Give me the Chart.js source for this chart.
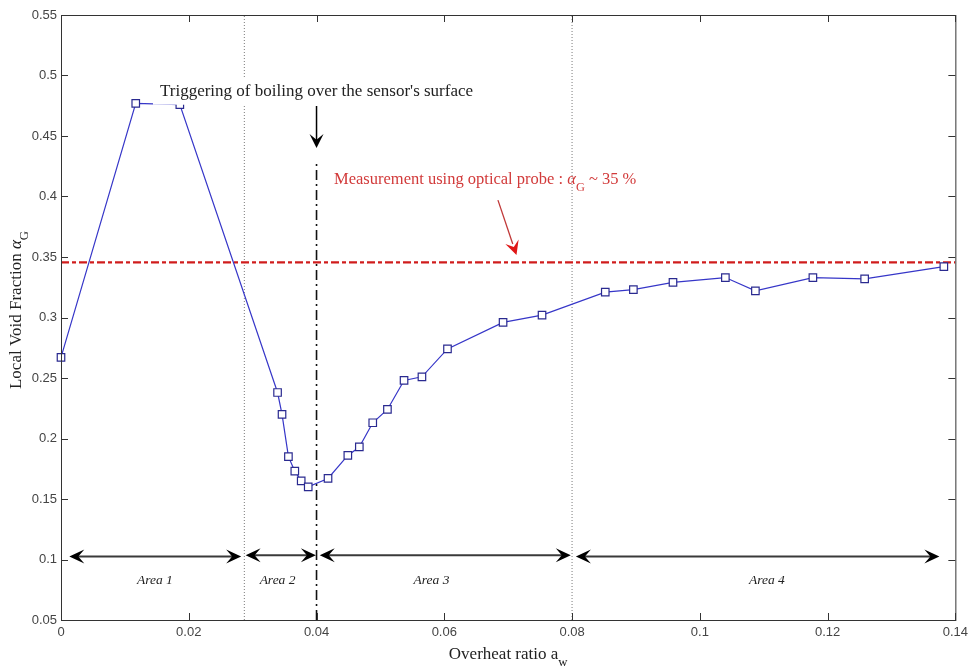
<!DOCTYPE html>
<html>
<head>
<meta charset="utf-8">
<script src="https://cdn.jsdelivr.net/npm/chart.js@4.4.1/dist/chart.umd.min.js"></script>
<style>
  body { margin: 0; background: #fff; }
  #wrap { width: 973px; height: 670px; position: relative; }
</style>
</head>
<body>
<div id="wrap"><canvas id="voidChart"></canvas></div>
<script>
// measured points: overheat ratio vs local void fraction
const overheat = [0, 0.0117, 0.0186, 0.0339, 0.0346, 0.0356, 0.0366, 0.0376, 0.0387, 0.0418,
  0.0449, 0.0467, 0.0488, 0.0511, 0.0537, 0.0565, 0.0605, 0.0692, 0.0753, 0.0852,
  0.0896, 0.0958, 0.1040, 0.1087, 0.1177, 0.1258, 0.1382];
const voidFraction = [0.267, 0.477, 0.476, 0.238, 0.220, 0.185, 0.173, 0.165, 0.160, 0.167,
  0.186, 0.193, 0.213, 0.224, 0.248, 0.251, 0.274, 0.296, 0.302, 0.321,
  0.323, 0.329, 0.333, 0.322, 0.333, 0.332, 0.342];

// optical probe reference level
const probeLevel = 0.3455;

// area boundaries (dotted) and boiling trigger (dash-dot)
const areaBounds = [0.0287, 0.08];
const boilingX = 0.04;
const boilingTop = 0.4277;

// double arrows for the four areas
const areaNames = ['Area 1', 'Area 2', 'Area 3', 'Area 4'];
const areaStart = [0.0013, 0.0289, 0.0405, 0.0806];
const areaEnd = [0.0282, 0.0399, 0.0798, 0.1375];
const areaArrowY = [0.1025, 0.1035, 0.1035, 0.1025];
const areaLabelX = [0.0147, 0.0339, 0.058, 0.1105];
const areaLabelY = 0.083;

// tick values and labels
const xTicks = [0, 0.02, 0.04, 0.06, 0.08, 0.1, 0.12, 0.14];
const xTickLabels = ['0', '0.02', '0.04', '0.06', '0.08', '0.1', '0.12', '0.14'];
const yTicks = [0.05, 0.1, 0.15, 0.2, 0.25, 0.3, 0.35, 0.4, 0.45, 0.5, 0.55];
const yTickLabels = ['0.05', '0.1', '0.15', '0.2', '0.25', '0.3', '0.35', '0.4', '0.45', '0.5', '0.55'];

const SERIF = '"Liberation Serif", "DejaVu Serif", serif';
const SANS = '"Liberation Sans", Arial, sans-serif';

function arrowHead(ctx, x1, y1, x2, y2, len, half, color) {
  const a = Math.atan2(y2 - y1, x2 - x1);
  ctx.save();
  ctx.translate(x2, y2);
  ctx.rotate(a);
  ctx.fillStyle = color;
  ctx.beginPath();
  ctx.moveTo(0, 0);
  ctx.lineTo(-len, -half);
  ctx.lineTo(-len * 0.6, 0);
  ctx.lineTo(-len, half);
  ctx.closePath();
  ctx.fill();
  ctx.restore();
}

// text with optional subscript pieces
function richText(ctx, parts, x, y, size, family, color, style) {
  ctx.save();
  ctx.fillStyle = color;
  ctx.textBaseline = 'middle';
  ctx.textAlign = 'left';
  let w = 0;
  parts.forEach(p => {
    ctx.font = (p.it ? 'italic ' : (style || '')) + ' ' + (p.sub ? size * 0.75 : size) + 'px ' + family;
    p.w = ctx.measureText(p.t).width;
    w += p.w;
  });
  let cx = x - w / 2;
  parts.forEach(p => {
    ctx.font = (p.it ? 'italic ' : (style || '')) + ' ' + (p.sub ? size * 0.75 : size) + 'px ' + family;
    ctx.fillText(p.t, cx, p.sub ? y + size * 0.45 : y);
    cx += p.w;
  });
  ctx.restore();
  return w;
}

const overlay = {
  id: 'overlay',
  afterDatasetsDraw(chart) {
    const { ctx, chartArea: a, scales: { x, y } } = chart;
    ctx.save();

    // frame and inward ticks (matlab style)
    ctx.strokeStyle = '#333';
    ctx.lineWidth = 1;
    ctx.strokeRect(a.left + 0.5, a.top + 0.5, a.right - a.left, a.bottom - a.top);
    ctx.beginPath();
    xTicks.forEach(v => {
      const px = Math.round(x.getPixelForValue(v)) + 0.5;
      ctx.moveTo(px, a.bottom); ctx.lineTo(px, a.bottom - 7);
      ctx.moveTo(px, a.top); ctx.lineTo(px, a.top + 7);
    });
    yTicks.forEach(v => {
      const py = Math.round(y.getPixelForValue(v)) + 0.5;
      ctx.moveTo(a.left, py); ctx.lineTo(a.left + 7, py);
      ctx.moveTo(a.right, py); ctx.lineTo(a.right - 7, py);
    });
    ctx.stroke();

    // area arrows
    areaNames.forEach((name, i) => {
      const x1 = x.getPixelForValue(areaStart[i]);
      const x2 = x.getPixelForValue(areaEnd[i]);
      const py = y.getPixelForValue(areaArrowY[i]);
      ctx.strokeStyle = '#3a3a3a';
      ctx.lineWidth = 2;
      ctx.beginPath();
      ctx.moveTo(x1 + 8, py); ctx.lineTo(x2 - 8, py);
      ctx.stroke();
      arrowHead(ctx, x2, py, x1, py, 15, 7, '#000');
      arrowHead(ctx, x1, py, x2, py, 15, 7, '#000');
      ctx.font = 'italic 13.5px ' + SERIF;
      ctx.fillStyle = '#222';
      ctx.textAlign = 'center';
      ctx.textBaseline = 'middle';
      ctx.fillText(name, x.getPixelForValue(areaLabelX[i]), y.getPixelForValue(areaLabelY));
    });

    // boiling annotation with white box
    const tx = x.getPixelForValue(boilingX);
    const ty = y.getPixelForValue(0.4866);
    ctx.font = '17px ' + SERIF;
    const label = "Triggering of boiling over the sensor's surface";
    const tw = ctx.measureText(label).width;
    ctx.fillStyle = '#fff';
    ctx.fillRect(tx - tw / 2 - 7, ty - 13, tw + 14, 26);
    ctx.fillStyle = '#222';
    ctx.textAlign = 'center';
    ctx.textBaseline = 'middle';
    ctx.fillText(label, tx, ty);

    const ay1 = y.getPixelForValue(0.4748);
    const ay2 = y.getPixelForValue(0.44);
    ctx.strokeStyle = '#000';
    ctx.lineWidth = 1.5;
    ctx.beginPath();
    ctx.moveTo(tx, ay1); ctx.lineTo(tx, ay2 - 8);
    ctx.stroke();
    arrowHead(ctx, tx, ay1, tx, ay2, 14, 7, '#000');

    // probe annotation
    richText(ctx, [
      { t: 'Measurement using optical probe : ' },
      { t: '\u03b1', it: true },
      { t: 'G', sub: true },
      { t: ' ~ 35 %' }
    ], x.getPixelForValue(0.0664), y.getPixelForValue(0.4136), 16.5, SERIF, '#d23a3a');

    const rx1 = x.getPixelForValue(0.0684), ry1 = y.getPixelForValue(0.397);
    const rx2 = x.getPixelForValue(0.0713), ry2 = y.getPixelForValue(0.3517);
    ctx.strokeStyle = '#c03838';
    ctx.lineWidth = 1.3;
    ctx.beginPath();
    ctx.moveTo(rx1, ry1); ctx.lineTo(rx2 - (rx2 - rx1) * 0.2, ry2 - (ry2 - ry1) * 0.2);
    ctx.stroke();
    arrowHead(ctx, rx1, ry1, rx2, ry2, 14, 7, '#e01818');

    ctx.restore();
  },
  afterDraw(chart) {
    const { ctx, chartArea: a } = chart;
    // axis titles
    richText(ctx, [{ t: 'Overheat ratio a' }, { t: 'w', sub: true }],
      (a.left + a.right) / 2, 655, 17, SERIF, '#222');
    ctx.save();
    ctx.translate(17, 310);
    ctx.rotate(-Math.PI / 2);
    richText(ctx, [{ t: 'Local Void Fraction ' }, { t: '\u03b1', it: true }, { t: 'G', sub: true }],
      0, 0, 17, SERIF, '#222');
    ctx.restore();
  }
};

const ctx = document.getElementById('voidChart').getContext('2d');
const voidChart = new Chart(ctx, {
  type: 'line',
  data: {
    datasets: [
      {
        label: 'Local void fraction',
        data: overheat.map((v, i) => ({ x: v, y: voidFraction[i] })),
        borderColor: '#3636c8',
        borderWidth: 1.2,
        pointStyle: 'rect',
        pointRadius: 5.3,
        pointBorderWidth: 1.2,
        pointBorderColor: '#2a2a90',
        pointBackgroundColor: '#fff',
        tension: 0,
        clip: false
      },
      {
        label: 'Optical probe',
        data: [{ x: 0, y: probeLevel }, { x: 0.14, y: probeLevel }],
        borderColor: '#d01c1c',
        borderWidth: 2.2,
        borderDash: [8, 3, 4, 3],
        pointRadius: 0
      },
      {
        label: 'Boiling trigger',
        data: [{ x: boilingX, y: 0.05 }, { x: boilingX, y: boilingTop }],
        borderColor: '#111',
        borderWidth: 1.6,
        borderDash: [10, 4, 2, 4],
        pointRadius: 0
      },
      ...areaBounds.map(b => ({
        label: 'bound',
        data: [{ x: b, y: 0.05 }, { x: b, y: 0.55 }],
        borderColor: '#7a7a7a',
        borderWidth: 1,
        borderDash: [1, 2],
        pointRadius: 0
      }))
    ]
  },
  options: {
    responsive: true,
    maintainAspectRatio: false,
    animation: false,
    layout: { padding: { top: 15, right: 14, left: 0, bottom: 0 } },
    plugins: { legend: { display: false }, tooltip: { enabled: false } },
    scales: {
      x: {
        type: 'linear',
        min: 0,
        max: 0.14,
        afterFit: s => { s.height = 50; },
        afterBuildTicks: s => { s.ticks = xTicks.map(v => ({ value: v })); },
        grid: { display: false, drawTicks: false },
        border: { display: false },
        ticks: {
          padding: 5,
          maxRotation: 0,
          color: '#444',
          font: { family: SANS, size: 13 },
          callback: (v, i) => xTickLabels[i]
        }
      },
      y: {
        type: 'linear',
        min: 0.05,
        max: 0.55,
        afterFit: s => { s.width = 61; },
        afterBuildTicks: s => { s.ticks = yTicks.map(v => ({ value: v })); },
        grid: { display: false, drawTicks: false },
        border: { display: false },
        ticks: {
          padding: 4,
          color: '#444',
          font: { family: SANS, size: 13 },
          callback: (v, i) => yTickLabels[i]
        }
      }
    }
  },
  plugins: [overlay]
});
</script>
</body>
</html>
